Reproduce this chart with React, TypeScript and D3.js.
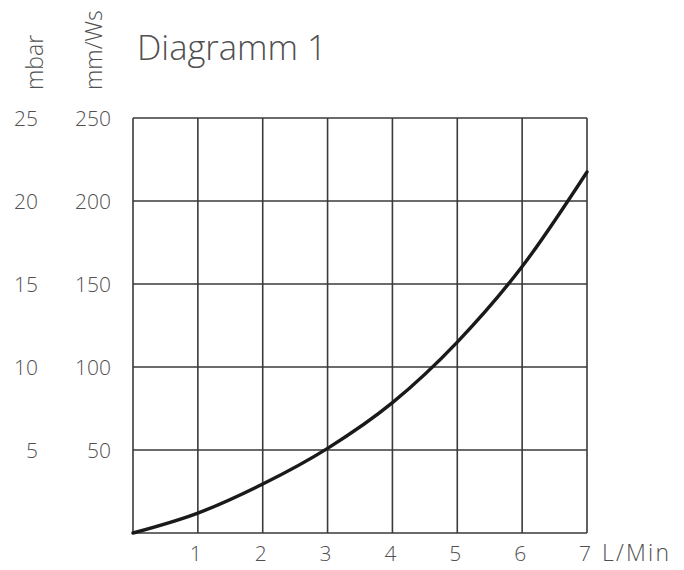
import React from "react";
import * as d3 from "d3";

const flowTicks = [1, 2, 3, 4, 5, 6, 7];
const mmwsTicks = [50, 100, 150, 200, 250];
const mbarTicks = [5, 10, 15, 20, 25];
const flow = [0, 1, 2, 3, 4, 5, 6, 7];
const pressure = [0, 12, 29.5, 51, 78.5, 115, 160.5, 217.5];

const W = 684;
const H = 570;
const FONT = "'Open Sans', 'Noto Sans', sans-serif";
const TXT = "#505050";
const GRID = "#3a3a3a";

export default function App() {
  const x = d3.scaleLinear().domain([0, 7]).range([133, 587]);
  const y = d3.scaleLinear().domain([0, 250]).range([533, 118]);
  const yb = d3.scaleLinear().domain([0, 25]).range([533, 118]);
  const line = d3
    .line<number>()
    .x((_, i) => x(flow[i]))
    .y((d) => y(d))
    .curve(d3.curveMonotoneX);
  const xGrid = d3.range(0, 8);
  const yGrid = d3.range(0, 251, 50);

  return (
    <svg
      width={W}
      height={H}
      style={{ position: "absolute", left: 0, top: 0, background: "#fff" }}
      fontFamily={FONT}
      fontWeight={300}
    >
      <rect x={0} y={0} width={W} height={H} fill="#fff" />
      {xGrid.map((v) => (
        <line key={"vx" + v} x1={x(v)} x2={x(v)} y1={y(0)} y2={y(250)} stroke={GRID} strokeWidth={1.6} />
      ))}
      {yGrid.map((v) => (
        <line key={"hy" + v} x1={x(0)} x2={x(7)} y1={y(v)} y2={y(v)} stroke={GRID} strokeWidth={1.6} />
      ))}
      <path d={line(pressure) || ""} fill="none" stroke="#1a1a1a" strokeWidth={3.4} strokeLinecap="round" />

      {mmwsTicks.map((v) => (
        <text key={"m" + v} x={111} y={y(v) + 7.5} textAnchor="end" fontSize={21} fill={TXT}>
          {v}
        </text>
      ))}
      {mbarTicks.map((v) => (
        <text key={"b" + v} x={38} y={yb(v) + 7.5} textAnchor="end" fontSize={21} fill={TXT}>
          {v}
        </text>
      ))}
      {flowTicks.map((v) => (
        <text key={"f" + v} x={x(v) - 2} y={561} textAnchor="middle" fontSize={21} fill={TXT}>
          {v}
        </text>
      ))}
      <text x={602} y={561} fontSize={23} fill={TXT} letterSpacing={2.2}>
        L/Min
      </text>
      <text x={137} y={60} fontSize={34.5} fill={TXT}>
        Diagramm 1
      </text>
      <text transform="translate(43,90) rotate(-90)" fontSize={23} fill={TXT}>
        mbar
      </text>
      <text transform="translate(102,90) rotate(-90)" fontSize={23} fill={TXT}>
        mm/Ws
      </text>
    </svg>
  );
}
